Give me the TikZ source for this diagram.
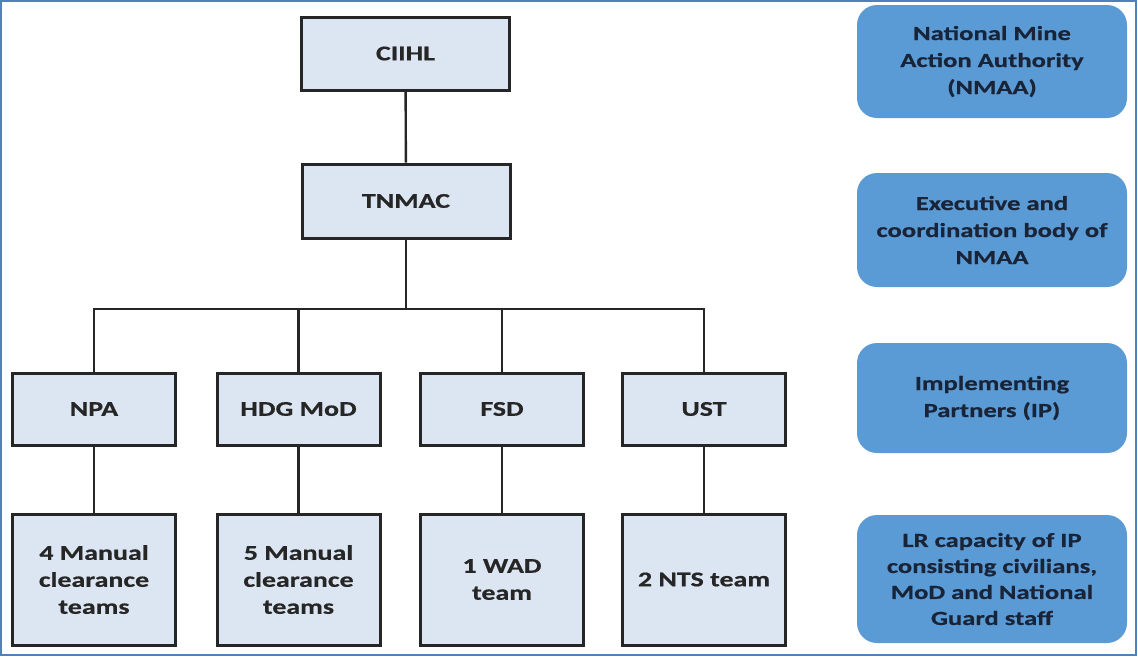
\documentclass[tikz,border=0pt]{standalone}
\usepackage{fontspec}
\newfontfamily\diagfont[FakeStretch=1.33,FakeBold=0.6]{Carlito}
\definecolor{boxfill}{HTML}{DCE6F2}
\definecolor{sidefill}{HTML}{5B9BD5}
\definecolor{frameblue}{HTML}{4F81BD}
\definecolor{sidetext}{HTML}{1A2438}
\definecolor{boxtext}{HTML}{262626}
\begin{document}
\begin{tikzpicture}[x=1pt,y=-1pt,
  orgbox/.style={draw=black!85, line width=3pt, fill=boxfill, minimum width=163pt,
    inner sep=0pt, align=center, text=boxtext,
    font=\diagfont\bfseries\fontsize{21}{27}\selectfont},
  sidebox/.style={fill=sidefill, rounded corners=20pt, minimum width=270pt,
    inner sep=0pt, align=center, text=sidetext,
    font=\diagfont\bfseries\fontsize{20}{27}\selectfont},
  link/.style={draw=black!85, line width=2.4pt}]
\useasboundingbox (0,0) rectangle (1138,657);
\draw[frameblue, line width=2pt] (1,1) rectangle (1136,655);

% hierarchy
\node[orgbox, minimum width=208pt, minimum height=73pt] (ciihl) at (405.5,53.5) {CIIHL};
\node[orgbox, minimum width=208pt, minimum height=74pt] (tnmac) at (406,201) {TNMAC};

\node[orgbox, minimum height=72pt] (npa) at (94,409) {NPA};
\node[orgbox, minimum height=72pt] (hdg) at (298.5,409) {HDG MoD};
\node[orgbox, minimum height=72pt] (fsd) at (502,409) {FSD};
\node[orgbox, minimum height=72pt] (ust) at (704,409) {UST};

\node[orgbox, minimum height=131pt] (npat) at (94,579.5) {4 Manual\\clearance\\teams};
\node[orgbox, minimum height=131pt] (hdgt) at (298.5,579.5) {5 Manual\\clearance\\teams};
\node[orgbox, minimum height=131pt] (fsdt) at (502,579.5) {1 WAD\\team};
\node[orgbox, minimum height=131pt] (ustt) at (704,579.5) {2 NTS team};

% side legend
\node[sidebox, minimum height=113pt] (nmaa) at (992,61.5) {National Mine\\Action Authority\\(NMAA)};
\node[sidebox, minimum height=114pt] (exec) at (992,230) {Executive and\\coordination body of\\NMAA};
\node[sidebox, minimum height=110pt] (ip) at (992,398) {Implementing\\Partners (IP)};
\node[sidebox, minimum height=128pt, font=\diagfont\bfseries\fontsize{20}{26}\selectfont] (lr) at (992,579) {LR capacity of IP\\consisting civilians,\\MoD and National\\Guard staff};

% connectors
\coordinate (bus) at (406,309);
\draw[link] (ciihl) -- (tnmac);
\draw[link] (tnmac) -- (bus);
\draw[link] (bus) -| (npa);
\draw[link] (bus) -| (hdg);
\draw[link] (bus) -| (fsd);
\draw[link] (bus) -| (ust);
\draw[link] (npa) -- (npat);
\draw[link] (hdg) -- (hdgt);
\draw[link] (fsd) -- (fsdt);
\draw[link] (ust) -- (ustt);
\end{tikzpicture}
\end{document}
